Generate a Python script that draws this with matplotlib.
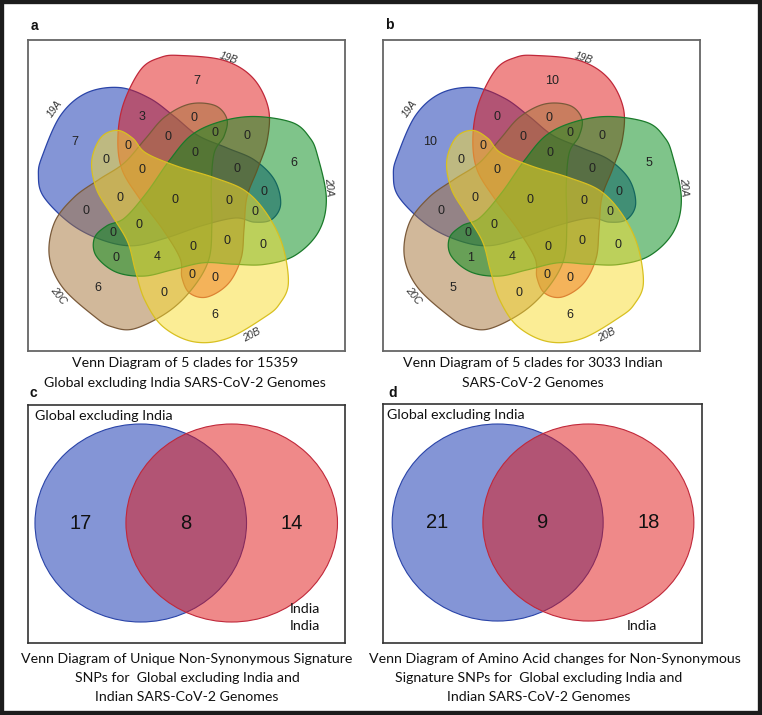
import itertools
import numpy as np
import matplotlib.pyplot as plt
from matplotlib.path import Path
from matplotlib.patches import PathPatch, Circle, Rectangle

# ---- data ----
clades = ["19A", "19B", "20A", "20B", "20C"]
# one value per region, regions ordered as itertools.combinations(clades, k), k = 1..5
global_counts = [7, 7, 6, 6, 6,
                 3, 0, 0, 0, 0, 0, 0, 0, 0, 0,
                 0, 0, 0, 0, 0, 0, 0, 0, 0, 4,
                 0, 0, 0, 0, 0,
                 0]
india_counts = [10, 10, 5, 6, 5,
                0, 0, 0, 0, 0, 0, 0, 0, 1, 0,
                0, 0, 0, 0, 0, 0, 0, 0, 0, 4,
                0, 0, 0, 0, 0,
                0]
pair_sets = ["Global excluding India", "India"]
snp_counts = [17, 8, 14]      # global only, both, india only
aa_counts = [21, 9, 18]

captions = {
    "a": ["Venn Diagram of 5 clades for 15359", "Global excluding India SARS-CoV-2 Genomes"],
    "b": ["Venn Diagram of 5 clades for 3033 Indian", "SARS-CoV-2 Genomes"],
    "c": ["Venn Diagram of Unique Non-Synonymous Signature", "SNPs for  Global excluding India and",
          "Indian SARS-CoV-2 Genomes"],
    "d": ["Venn Diagram of Amino Acid changes for Non-Synonymous", "Signature SNPs for  Global excluding India and",
          "Indian SARS-CoV-2 Genomes"],
}

# ---- style ----
fills = ["#0A2DAF", "#E11414", "#008A16", "#F9DD2D", "#A57337"]
edges = ["#2A44A8", "#C0283A", "#1A7A2A", "#D8C020", "#7A5A3A"]
draw_order = [0, 1, 4, 2, 3]
rot = [72, 0, -72, -144, -216]
LOBE = 81
name_shift = [-9, -10, -4, 1, -7]      # angle nudges of the clade names
name_rad = [155, 150, 149, 153, 155]
single_shift = [-2, 1, 9, -10, 2]      # angle nudges of the single-clade counts
CAP_FONT = ["Lato", "DejaVu Sans"]
NUM_FONT = ["Liberation Sans", "DejaVu Sans"]

# one blob outline (lobe up), rotated for each clade
blob = [(0, 149), (45, 144), (75, 126), (91, 95), (90, 62), (80, 32), (69, 3), (66, -30),
        (63, -60), (50, -86), (28, -100), (10, -96), (2, -80), (0, -60), (-18, -30),
        (-42, 2), (-60, 32), (-64, 65), (-58, 100), (-40, 135), (-20, 147)]


def smooth_closed(pts, n=30):
    p = np.asarray(pts, float)
    m = len(p)
    t = np.linspace(0, 1, n, endpoint=False)[:, None]
    out = []
    for i in range(m):
        p0, p1, p2, p3 = p[i - 1], p[i], p[(i + 1) % m], p[(i + 2) % m]
        out.append(0.5 * (2 * p1 + (-p0 + p2) * t + (2 * p0 - 5 * p1 + 4 * p2 - p3) * t ** 2
                          + (-p0 + 3 * p1 - 3 * p2 + p3) * t ** 3))
    return np.vstack(out)


def rotate(pts, deg):
    a = np.deg2rad(deg)
    r = np.array([[np.cos(a), -np.sin(a)], [np.sin(a), np.cos(a)]])
    return pts @ r.T


base = smooth_closed(blob) * 0.97
outlines = [rotate(base, r) for r in rot]
paths = [Path(np.vstack([o, o[:1]]), closed=True) for o in outlines]
combos = [c for k in range(1, 6) for c in itertools.combinations(range(5), k)]

XL, YL = (-152, 165), (-151, 160)

# label spot of every region: deepest grid point inside it
gx, gy = np.meshgrid(np.arange(XL[0], XL[1], 1.0), np.arange(YL[0], YL[1], 1.0))
pts = np.column_stack([gx.ravel(), gy.ravel()])
lab = np.zeros(len(pts), int)
for i, p in enumerate(paths):
    lab |= p.contains_points(pts).astype(int) << i
lab = lab.reshape(gx.shape)
bnd = np.zeros(lab.shape, bool)
bnd[:, 1:] |= lab[:, 1:] != lab[:, :-1]
bnd[:, :-1] |= lab[:, :-1] != lab[:, 1:]
bnd[1:, :] |= lab[1:, :] != lab[:-1, :]
bnd[:-1, :] |= lab[:-1, :] != lab[1:, :]
alive = ~bnd
depth = alive.astype(int)
while alive.any():
    a2 = alive.copy()
    a2[1:, :] &= alive[:-1, :]
    a2[:-1, :] &= alive[1:, :]
    a2[:, 1:] &= alive[:, :-1]
    a2[:, :-1] &= alive[:, 1:]
    a2[0, :] = a2[-1, :] = a2[:, 0] = a2[:, -1] = False
    alive = a2
    depth += alive
spots = {}
for c in combos:
    if len(c) == 1:
        # single clade: along the lobe axis
        phi = np.deg2rad(LOBE + rot[c[0]] + single_shift[c[0]])
        spots[c] = (120 * np.cos(phi), 120 * np.sin(phi))
        continue
    m = sum(1 << i for i in c)
    sel = lab == m
    if not sel.any():
        continue
    d = np.where(sel, depth, -1)
    best = d == d.max()
    cx, cy = gx[best].mean(), gy[best].mean()
    k = np.argmin(np.where(best, (gx - cx) ** 2 + (gy - cy) ** 2, np.inf))
    spots[c] = (gx.ravel()[k], gy.ravel()[k])

W, H = 762, 715
fig = plt.figure(figsize=(W / 100, H / 100), dpi=100)


def box_axes(x0, y0, x1, y1, color, lw):
    ax = fig.add_axes([x0 / W, 1 - y1 / H, (x1 - x0) / W, (y1 - y0) / H])
    ax.set_xticks([])
    ax.set_yticks([])
    for s in ax.spines.values():
        s.set_color(color)
        s.set_linewidth(lw)
    return ax


def five_venn(ax, counts):
    for i in draw_order:
        ax.add_patch(PathPatch(paths[i], facecolor=fills[i], alpha=0.5, edgecolor="none"))
        ax.add_patch(PathPatch(paths[i], facecolor="none", edgecolor=edges[i], lw=0.9))
    for c, v in zip(combos, counts):
        if c in spots:
            ax.text(*spots[c], str(v), ha="center", va="center", fontsize=9,
                    color="#222222", family=NUM_FONT)
    for i, name in enumerate(clades):
        phi = np.deg2rad(LOBE + rot[i] + name_shift[i])
        rr = name_rad[i]
        ang = (np.rad2deg(phi) - 90 + 180) % 360 - 180
        if ang > 90:
            ang -= 180
        elif ang < -90:
            ang += 180
        ax.text(rr * np.cos(phi), rr * np.sin(phi), name, ha="center", va="center",
                rotation=ang, fontsize=7.5, style="italic", color="#333333", family=NUM_FONT)
    ax.set_xlim(*XL)
    ax.set_ylim(*YL)


def two_venn(ax, counts, xlim, ylim):
    ax.add_patch(Circle((-0.43, 0), 1, facecolor=fills[0], alpha=0.5, edgecolor="none"))
    ax.add_patch(Circle((-0.43, 0), 1, facecolor="none", edgecolor=edges[0], lw=0.8))
    ax.add_patch(Circle((0.43, 0), 1, facecolor=fills[1], alpha=0.5, edgecolor="none"))
    ax.add_patch(Circle((0.43, 0), 1, facecolor="none", edgecolor=edges[1], lw=0.8))
    xs = [(-1.43 + -0.57) / 2, 0, (1.43 + 0.57) / 2]
    for x, v in zip(xs, counts):
        ax.text(x, 0, str(v), ha="center", va="center", fontsize=14.5, color="#111111",
                family=NUM_FONT)
    ax.set_xlim(*xlim)
    ax.set_ylim(*ylim)
    ax.set_aspect("auto")


ax_a = box_axes(28, 40, 345, 351, "#666666", 1.3)
five_venn(ax_a, global_counts)
ax_b = box_axes(383, 40, 700, 351, "#666666", 1.3)
five_venn(ax_b, india_counts)

ax_c = box_axes(28, 405, 345, 643, "#333333", 1.2)
two_venn(ax_c, snp_counts, (-1.496, 1.501), (-1.212, 1.192))
ax_d = box_axes(383, 404, 702, 643, "#333333", 1.2)
two_venn(ax_d, aa_counts, (-1.517, 1.507), (-1.223, 1.203))

# set names of the two-set diagrams
name_kw = dict(ha="left", va="center", fontsize=10.3, family=CAP_FONT, color="#111111")
fig.text(35 / W, 1 - 416 / H, pair_sets[0], **name_kw)
fig.text(290 / W, 1 - 609 / H, pair_sets[1], **name_kw)
fig.text(290 / W, 1 - 626 / H, pair_sets[1], **name_kw)
fig.text(387 / W, 1 - 415 / H, pair_sets[0], **name_kw)
fig.text(627 / W, 1 - 626 / H, pair_sets[1], **name_kw)

# panel letters
for letter, (x, y) in zip("abcd", [(31, 26), (385, 25), (29, 393), (388, 393)]):
    fig.text(x / W, 1 - y / H, letter, ha="left", va="center", fontsize=10, weight="bold",
             family=NUM_FONT, color="#111111")

# captions (x centre of each line, y of each line, in pixels)
cap_pos = {"a": ([185, 185], [363, 383]), "b": ([533, 533], [363, 383]),
           "c": ([187, 187, 187], [659, 678, 697]), "d": ([555, 539, 539], [659, 678, 697])}
for key, lines in captions.items():
    xs, ys = cap_pos[key]
    for line, x, y in zip(lines, xs, ys):
        fig.text(x / W, 1 - y / H, line, ha="center", va="center", fontsize=10.2,
                 family=CAP_FONT, color="#111111")

# dark frame round the whole figure
fig.patches.append(Rectangle((0, 0), 1, 1, transform=fig.transFigure, fill=False,
                             edgecolor="#1c1c1c", lw=6))

fig.savefig("out.png", dpi=100)
